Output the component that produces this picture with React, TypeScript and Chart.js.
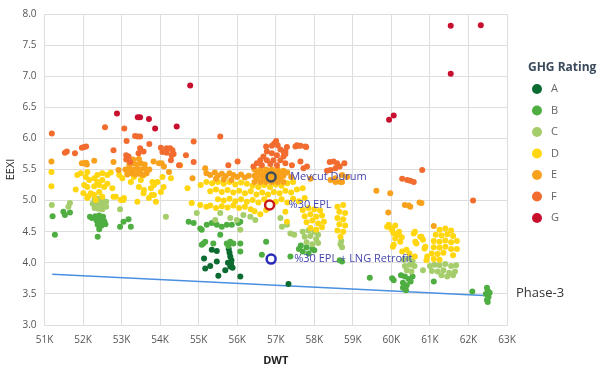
import React, { useEffect, useRef } from "react";
import { Chart, registerables } from "chart.js";

Chart.register(...registerables);

// DWT in thousands, EEXI
const ratingNames = ["A", "B", "C", "D", "E", "F", "G"];
const ratingColors = ["#0b6b30", "#4fae42", "#a6cd6b", "#ffd60f", "#f8a11c", "#f26b2f", "#c8102e"];

const ratingA: [number, number][] = [
  [55.14, 4.07], [55.17, 3.91], [55.3, 3.95], [55.51, 3.79], [55.34, 4.21], [55.47, 4.19], [55.47, 4.02],
  [55.69, 3.88], [55.82, 3.94], [55.78, 4.22], [55.8, 4.16], [55.82, 4.1], [55.85, 4.04], [55.84, 3.98],
  [55.88, 3.92], [55.76, 4.0], [56.08, 3.78], [57.33, 3.66],
];

const ratingB: [number, number][] = [
  [51.21, 4.75], [51.27, 4.45], [51.49, 4.82], [51.53, 4.77], [51.66, 4.81], [52.18, 4.74], [52.23, 4.72],
  [52.32, 4.75], [52.42, 4.76], [52.52, 4.74], [52.35, 4.68], [52.45, 4.69], [52.55, 4.67], [52.38, 4.61],
  [52.48, 4.6], [52.58, 4.62], [52.38, 4.42], [52.42, 4.54], [52.96, 4.58], [53.05, 4.66], [53.18, 4.7], [53.24, 4.58],
  [54.74, 4.66], [54.87, 4.64], [55.04, 4.55], [55.08, 4.53], [55.21, 4.61], [55.34, 4.64], [55.47, 4.61],
  [55.6, 4.58], [55.73, 4.61], [55.86, 4.61], [55.12, 4.31], [55.08, 4.29], [55.17, 4.34], [55.38, 4.31],
  [55.56, 4.45], [55.73, 4.31], [55.82, 4.34], [55.9, 4.31], [55.77, 4.27], [56.08, 4.18], [56.03, 4.64],
  [56.08, 4.66], [56.08, 4.31], [56.64, 4.13], [56.75, 4.34], [57.38, 4.1], [57.65, 4.28], [57.8, 4.25],
  [57.95, 4.22], [57.7, 4.18], [57.85, 4.15], [58.0, 4.2], [57.6, 4.22], [58.66, 4.04], [58.72, 4.02],
  [59.44, 3.76], [60.02, 3.75], [60.06, 3.72], [60.25, 3.8], [60.35, 3.78], [60.45, 3.74], [60.3, 3.68],
  [60.4, 3.64], [60.5, 3.7], [60.38, 3.56], [60.55, 3.78], [60.3, 3.6], [61.1, 3.7], [62.1, 3.54],
  [62.48, 3.6], [62.5, 3.55], [62.45, 3.5], [62.52, 3.45], [62.48, 3.4], [62.5, 3.37], [62.55, 3.52],
];

const ratingC: [number, number][] = [
  [51.19, 4.93], [51.66, 4.96], [51.62, 4.9], [52.96, 4.86], [54.15, 4.74], [54.95, 4.8],
  [52.3, 5.02], [52.4, 5.03], [52.5, 5.01], [52.6, 4.98], [52.25, 4.95], [52.35, 4.96], [52.45, 4.94],
  [52.55, 4.93], [52.3, 4.88], [52.4, 4.87], [52.5, 4.86], [52.6, 4.9],
  [55.56, 4.8], [55.43, 4.69], [55.82, 4.72], [55.99, 4.69], [56.16, 4.77], [56.34, 4.74], [56.47, 4.69],
  [57.12, 4.72], [57.16, 4.58], [57.29, 4.61], [56.08, 4.53],
  [57.7, 4.5], [57.85, 4.52], [58.0, 4.5], [58.1, 4.45], [57.75, 4.42], [57.9, 4.43], [58.05, 4.38],
  [57.8, 4.33], [57.95, 4.3], [58.1, 4.32], [57.38, 4.47], [57.48, 4.45], [58.68, 4.3], [58.72, 4.25], [58.7, 4.35],
  [60.32, 4.05], [60.45, 4.07], [60.55, 4.03], [60.35, 3.95], [60.48, 3.97], [60.4, 3.88], [60.52, 3.86],
  [60.6, 3.95], [60.82, 3.88],
  [61.0, 3.95], [61.12, 3.97], [61.25, 3.96], [61.4, 3.98], [61.55, 3.95], [61.68, 3.96], [61.05, 3.87],
  [61.2, 3.86], [61.35, 3.88], [61.5, 3.84], [61.65, 3.86], [61.3, 3.8], [61.45, 3.78], [61.6, 3.8],
];

const ratingD: [number, number][] = [
  [51.18, 5.46], [51.18, 5.23], [51.81, 5.18], [51.85, 5.41], [51.94, 5.44], [52.11, 5.46], [52.07, 5.38],
  [52.16, 5.33], [52.29, 5.36], [52.37, 5.41], [52.5, 5.44], [52.63, 5.41], [52.72, 5.45], [52.03, 5.25],
  [52.11, 5.22], [52.29, 5.23], [52.42, 5.25], [52.55, 5.22], [52.63, 5.27], [52.5, 5.33], [52.37, 5.3],
  [52.2, 5.12], [52.29, 5.09], [52.42, 5.14], [52.5, 5.06], [52.11, 5.04], [52.33, 5.01], [52.76, 5.2],
  [52.85, 5.06], [52.98, 5.01], [53.06, 5.04], [53.41, 4.98], [52.94, 5.41], [53.02, 5.36], [53.15, 5.44],
  [53.24, 5.3], [53.32, 5.38], [53.5, 5.33], [53.58, 5.41], [53.45, 5.22], [53.58, 5.17], [53.76, 5.2],
  [53.84, 5.25], [53.93, 5.3], [54.06, 5.38], [54.28, 5.36], [53.84, 5.09], [54.02, 5.14], [53.71, 5.04],
  [53.89, 4.98], [53.8, 5.3], [54.71, 5.2], [52.01, 5.12], [52.14, 5.07], [52.79, 5.06], [53.05, 5.01],
  [53.78, 5.09], [54.09, 5.22], [53.57, 5.12],
  [55.05, 5.25], [55.2, 5.3], [55.35, 5.28], [55.5, 5.3], [55.65, 5.27], [55.8, 5.3], [55.95, 5.26],
  [56.1, 5.29], [56.25, 5.27], [56.4, 5.24], [56.55, 5.22], [56.7, 5.25], [56.85, 5.22], [57.0, 5.26],
  [57.15, 5.24], [57.3, 5.28], [57.45, 5.3],
  [55.3, 5.15], [55.45, 5.18], [55.6, 5.14], [55.75, 5.17], [55.9, 5.13], [56.05, 5.16], [56.2, 5.12],
  [56.35, 5.15], [56.5, 5.1], [56.65, 5.13], [56.8, 5.1], [56.95, 5.14], [57.1, 5.12], [57.25, 5.16],
  [57.4, 5.13], [57.55, 5.18], [57.7, 5.2],
  [55.5, 5.02], [55.65, 5.0], [55.8, 5.03], [55.95, 4.99], [56.1, 5.02], [56.25, 4.98], [56.4, 5.01],
  [56.55, 4.97], [56.7, 5.02], [57.0, 4.98], [57.15, 5.02], [57.3, 4.97], [57.45, 5.03], [57.6, 4.99], [57.75, 5.04],
  [54.82, 4.96], [55.04, 4.93], [55.2, 4.9], [55.3, 4.92], [55.45, 4.88], [55.6, 4.91], [55.75, 4.89],
  [55.9, 4.92], [56.05, 4.88], [56.2, 4.9], [56.35, 4.86],
  [56.45, 4.83], [56.6, 4.78], [56.75, 4.85], [57.25, 4.82], [57.29, 4.66],
  [57.7, 4.85], [57.85, 4.88], [58.0, 4.86], [58.15, 4.84], [57.75, 4.75], [57.9, 4.78], [58.05, 4.74],
  [58.2, 4.76], [57.8, 4.65], [57.95, 4.68], [58.1, 4.63], [58.25, 4.66], [57.9, 4.56], [58.05, 4.53], [58.2, 4.57],
  [58.6, 4.9], [58.75, 4.93], [58.65, 4.82], [58.8, 4.8], [58.6, 4.72], [58.75, 4.7], [58.65, 4.62],
  [58.8, 4.6], [58.6, 4.52], [58.75, 4.5], [58.68, 4.42],
  [59.93, 4.61], [60.0, 4.55], [60.1, 4.6], [60.2, 4.5], [60.27, 4.41], [60.15, 4.45], [60.05, 4.48],
  [60.61, 4.5], [60.65, 4.31], [60.78, 4.42], [60.82, 4.37], [60.86, 4.23], [60.04, 4.26], [60.47, 4.15],
  [60.61, 4.1], [60.39, 4.21], [60.91, 4.04], [59.89, 4.58], [60.02, 4.53], [60.19, 4.45], [60.1, 4.39],
  [60.23, 4.34], [60.06, 4.29], [60.28, 4.18], [60.58, 4.47], [60.62, 4.34], [60.75, 4.42], [60.88, 4.26], [60.93, 4.1],
  [61.25, 4.53], [61.4, 4.55], [61.55, 4.52], [61.15, 4.45], [61.3, 4.44], [61.45, 4.46], [61.6, 4.43],
  [61.1, 4.35], [61.25, 4.34], [61.4, 4.36], [61.55, 4.33], [61.7, 4.35], [61.1, 4.25], [61.25, 4.24],
  [61.4, 4.26], [61.55, 4.22], [61.05, 4.15], [61.2, 4.14], [61.35, 4.16], [61.6, 4.12], [61.1, 4.06],
  [61.25, 4.05], [61.7, 4.22],
];

const ratingE: [number, number][] = [
  [51.18, 5.63], [51.97, 5.6], [52.03, 5.6], [52.08, 5.61], [52.1, 5.58], [52.29, 5.64], [52.79, 5.62],
  [52.92, 5.49], [53.83, 5.63], [53.97, 5.6], [54.04, 5.6], [54.1, 5.55], [54.23, 5.46], [54.52, 5.57], [54.84, 5.36],
  [53.15, 5.42], [53.25, 5.44], [53.35, 5.42], [53.45, 5.43], [53.55, 5.41], [53.65, 5.44],
  [53.1, 5.5], [53.2, 5.52], [53.3, 5.5], [53.4, 5.51], [53.5, 5.5], [53.6, 5.52], [53.72, 5.5],
  [53.2, 5.58], [53.3, 5.6], [53.4, 5.58], [53.5, 5.6], [53.6, 5.58], [53.3, 5.66], [53.45, 5.67],
  [55.2, 5.44], [55.3, 5.41], [55.42, 5.45], [55.5, 5.4], [55.6, 5.43], [55.7, 5.39], [55.8, 5.44],
  [55.9, 5.41], [56.0, 5.38], [56.1, 5.42], [56.2, 5.37], [56.3, 5.4], [55.17, 5.52], [55.45, 5.35],
  [55.65, 5.34], [55.85, 5.33],
  [56.45, 5.3], [56.6, 5.3], [56.75, 5.3], [56.9, 5.3], [57.05, 5.3], [57.2, 5.3],
  [56.5, 5.35], [56.68, 5.35], [56.82, 5.35], [56.98, 5.35], [57.12, 5.35],
  [56.45, 5.4], [56.6, 5.4], [56.75, 5.4], [56.9, 5.4], [57.05, 5.4], [57.2, 5.4],
  [56.52, 5.45], [56.68, 5.45], [56.82, 5.45], [56.98, 5.45], [57.12, 5.44],
  [56.45, 5.5], [56.6, 5.5], [56.75, 5.5], [56.9, 5.5], [57.05, 5.5], [57.2, 5.48],
  [57.3, 5.45], [57.4, 5.38], [57.9, 5.35], [58.42, 5.33], [58.55, 5.3], [58.72, 5.3], [58.72, 5.41],
  [58.85, 5.38], [58.55, 5.36], [58.68, 5.3],
  [59.61, 5.16], [59.97, 5.12], [60.35, 4.93], [60.45, 4.92], [60.49, 4.9], [60.73, 4.97], [60.78, 4.96],
  [59.92, 4.81], [61.1, 4.59],
];

const ratingF: [number, number][] = [
  [51.19, 6.08], [52.57, 6.18], [53.07, 6.16], [53.13, 5.96], [53.35, 6.04], [53.42, 6.03], [53.48, 6.03],
  [53.72, 5.91], [51.97, 5.85], [52.03, 5.86], [52.08, 5.87], [51.79, 5.76], [51.53, 5.77], [51.58, 5.79],
  [52.79, 5.81], [53.12, 5.73], [53.18, 5.71], [53.12, 5.66], [53.22, 5.62], [53.48, 5.84], [53.44, 5.76],
  [53.57, 5.79], [54.02, 5.85], [54.06, 5.78], [54.17, 5.84], [54.26, 5.84], [54.32, 5.81], [54.35, 5.75],
  [54.17, 5.77], [54.3, 5.73], [54.87, 5.95], [54.67, 5.73], [54.87, 5.62], [54.28, 5.65], [54.49, 5.57],
  [55.56, 6.03], [55.77, 5.57], [56.01, 5.63],
  [57.01, 5.96], [56.96, 5.92], [57.05, 5.89], [56.9, 5.88], [56.75, 5.87], [57.12, 5.82], [57.25, 5.79],
  [57.29, 5.86], [57.55, 5.89], [57.64, 5.88], [57.79, 5.86], [56.77, 5.79], [56.9, 5.76], [57.03, 5.73],
  [57.2, 5.71], [56.68, 5.71], [56.6, 5.65], [56.77, 5.65], [56.94, 5.65], [57.12, 5.65], [56.51, 5.6],
  [56.64, 5.57], [56.86, 5.59], [57.03, 5.57], [57.25, 5.6], [57.42, 5.57], [57.64, 5.63], [57.72, 5.52],
  [57.81, 5.55], [56.42, 5.55], [57.51, 5.87], [57.59, 5.88], [57.77, 5.87], [57.2, 5.79], [57.25, 5.75],
  [58.4, 5.62], [58.5, 5.63], [58.59, 5.6], [58.78, 5.6], [58.66, 5.55], [58.55, 5.52], [58.42, 5.49],
  [58.33, 5.48], [60.8, 5.49], [60.28, 5.35], [60.41, 5.33], [60.49, 5.32], [60.58, 5.3], [62.12, 5.0],
];

const ratingG: [number, number][] = [
  [52.88, 6.4], [53.42, 6.34], [53.48, 6.34], [53.71, 6.31], [53.87, 6.16], [54.43, 6.19], [54.78, 6.85],
  [59.94, 6.3], [60.06, 6.37], [61.54, 7.04], [61.54, 7.81], [62.32, 7.82],
];

const ratingPoints = [ratingA, ratingB, ratingC, ratingD, ratingE, ratingF, ratingG];

// Phase-3 reference line (DWT, EEXI)
const phase3Line: [number, number][] = [[51.2, 3.815], [62.4, 3.475]];

// Scenario markers
const markerNames = ["Mevcut Durum", "%30 EPL", "%30 EPL + LNG Retrofit"];
const markerPoints: [number, number][] = [[56.88, 5.38], [56.84, 4.93], [56.88, 4.06]];
const markerColors = ["#3e4e5c", "#c81818", "#2a2ab8"];

const xTickValues = [51, 52, 53, 54, 55, 56, 57, 58, 59, 60, 61, 62, 63];

const FONT = "'Open Sans', 'Liberation Sans', sans-serif";

export default function App() {
  const ref = useRef<HTMLCanvasElement | null>(null);

  useEffect(() => {
    const canvas = ref.current;
    if (!canvas) return;

    const datasets: any[] = [];
    markerPoints.forEach((p, i) => {
      datasets.push({
        type: "scatter",
        label: markerNames[i],
        data: [{ x: p[0], y: p[1] }],
        pointRadius: 4.5,
        pointBorderWidth: 2.5,
        pointBackgroundColor: "rgba(0,0,0,0)",
        pointBorderColor: markerColors[i],
        order: 0,
      });
    });
    ratingPoints.forEach((pts, i) => {
      datasets.push({
        type: "scatter",
        label: ratingNames[i],
        data: pts.map((p) => ({ x: p[0], y: p[1] })),
        pointRadius: 3,
        pointBorderWidth: 0,
        pointBackgroundColor: ratingColors[i],
        pointBorderColor: ratingColors[i],
        order: 10 - i,
      });
    });
    datasets.push({
      type: "line",
      label: "Phase-3",
      data: phase3Line.map((p) => ({ x: p[0], y: p[1] })),
      borderColor: "#4a8fe0",
      borderWidth: 1.5,
      pointRadius: 0,
      fill: false,
      order: 20,
    });

    const textPlugin = {
      id: "textPlugin",
      afterDatasetsDraw(chart: any) {
        const ctx = chart.ctx;
        const xs = chart.scales.x;
        const ys = chart.scales.y;
        ctx.save();
        ctx.font = `11px ${FONT}`;
        ctx.fillStyle = "#4646b0";
        ctx.textBaseline = "middle";
        ctx.textAlign = "left";
        const offsets = [19, 19, 23];
        markerPoints.forEach((p, i) => {
          const px = xs.getPixelForValue(p[0]);
          const py = ys.getPixelForValue(p[1]);
          ctx.fillText(markerNames[i], px + offsets[i], py);
        });
        // Phase-3 label
        const ly = ys.getPixelForValue(phase3Line[1][1]);
        ctx.font = `13px ${FONT}`;
        ctx.fillStyle = "#333";
        ctx.fillText("Phase-3", chart.chartArea.right + 9, ly - 2);

        // Legend
        const lx = chart.chartArea.right + 21;
        ctx.font = `bold 12px ${FONT}`;
        ctx.fillStyle = "#3a4a5c";
        ctx.fillText("GHG Rating", lx, 68);
        ctx.font = `11px ${FONT}`;
        ratingNames.forEach((n, i) => {
          const y = 89 + i * 21.5;
          ctx.beginPath();
          ctx.fillStyle = ratingColors[i];
          ctx.arc(lx + 9, y, 5, 0, Math.PI * 2);
          ctx.fill();
          ctx.fillStyle = "#666";
          ctx.fillText(n, lx + 23, y);
        });
        ctx.restore();
      },
    };

    const chart = new Chart(canvas, {
      type: "scatter",
      data: { datasets },
      options: {
        responsive: false,
        animation: false,
        layout: { padding: { left: 0, right: 93, top: 14, bottom: 0 } },
        plugins: {
          legend: { display: false },
          tooltip: { enabled: false },
        },
        scales: {
          x: {
            type: "linear",
            min: 51,
            max: 63,
            afterBuildTicks: (scale: any) => {
              scale.ticks = xTickValues.map((v) => ({ value: v }));
            },
            afterFit: (scale: any) => {
              scale.height = 46;
            },
            ticks: {
              font: { family: FONT, size: 10 },
              color: "#555",
              padding: 9,
              callback: (v: any) => `${v}K`,
            },
            grid: { color: "#dedede", drawTicks: false },
            border: { color: "#dedede" },
            title: {
              display: true,
              text: "DWT",
              font: { family: FONT, size: 11, weight: "bold" },
              color: "#222",
              padding: { top: 2, bottom: 4 },
            },
          },
          y: {
            type: "linear",
            min: 3,
            max: 8,
            afterFit: (scale: any) => {
              scale.width = 44.5;
            },
            ticks: {
              stepSize: 0.5,
              font: { family: FONT, size: 10 },
              color: "#555",
              padding: 8,
              callback: (v: any) => Number(v).toFixed(1),
            },
            grid: { color: "#dedede", drawTicks: false },
            border: { color: "#dedede" },
            title: {
              display: true,
              text: "EEXI",
              font: { family: FONT, size: 11 },
              color: "#222",
              padding: { top: 4, bottom: 4 },
            },
          },
        },
      },
      plugins: [textPlugin],
    } as any);

    return () => chart.destroy();
  }, []);

  return (
    <div style={{ position: "fixed", left: 0, top: 0, width: 600, height: 371, background: "#fff" }}>
      <canvas ref={ref} width={600} height={371} style={{ display: "block" }} />
    </div>
  );
}
